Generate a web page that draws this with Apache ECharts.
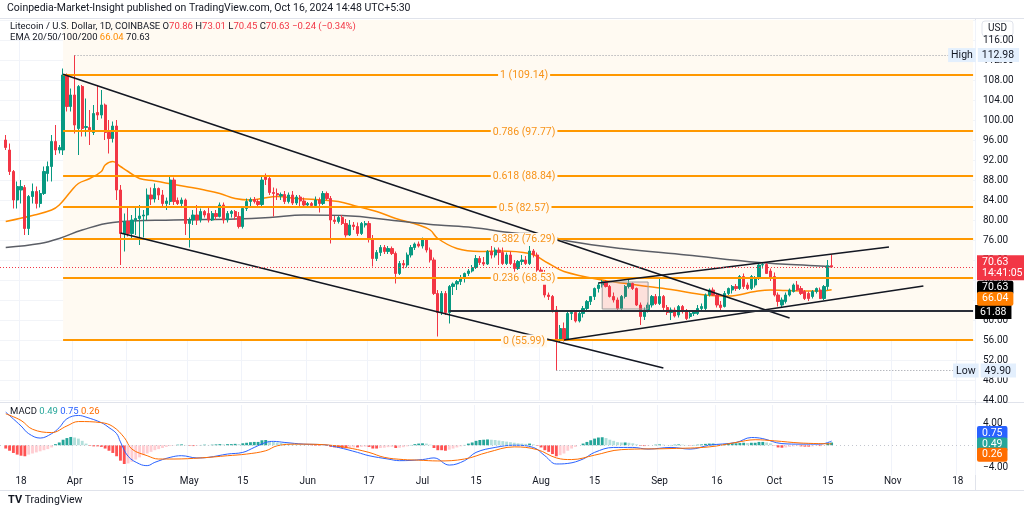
<!DOCTYPE html>
<html><head><meta charset="utf-8">
<script src="https://cdn.jsdelivr.net/npm/echarts@6/dist/echarts.min.js"></script>
<style>html,body{margin:0;padding:0;background:#fff}#c{width:1024px;height:511px}</style>
</head><body><div id="c"></div><script>
// ---------- data ----------
const axisStart = '2024-03-13', axisEnd = '2024-11-22';
const firstCandle = '2024-03-14';
// [open, high, low, close] daily from 2024-03-14 to 2024-10-16
const ohlc = [
[96,97,94,94.5],[94,95.3,89,89.7],[89.7,90,82.3,84],[84,87.7,82.3,86.7],[86,88,83.3,86.7],[86.5,87,77,78.3],[78.3,85,77,84.7],[84.7,87.3,83.3,85.7],[85.7,86.7,82.3,83.3],[83.3,86,82.5,85.3],[85.3,90.7,85,89.7],[89.3,91.7,87.7,90.7],[90.7,97,87.7,95.7],[95.7,99,93,94],[94,95,93.3,94.5],[94,110.3,93,109],[109,109.3,101.7,102.7],[102.7,106.3,101.7,105],
[105,112.98,97.3,99],[98.3,107,93,106.7],[106.7,107,96.7,98.3],[98.5,104.3,96.7,98.7],[98.5,102,95,97.8],[97.5,103,97,101.3],[101.5,107,100,101],[101,106,100.3,103],[103,103.3,96,97.5],[97.5,100,93.3,96.3],[96.3,99.7,95.5,98.8],[98.8,100,84,86],[86,87,71,77.3],[77.3,81.3,73.7,79.7],[79.7,82.7,76.7,77.3],[77.3,81,76,80],[80,82.7,77,80.3],[80.3,83,75,80.8],[80.8,82,76.5,81],[81,86.3,80,85],[85,86.5,83,84.2],[84.2,87.3,83.5,86.3],[86.3,86.5,84,85],[85,86,82.5,83.3],[83.3,84.5,82,83.8],[83.7,88.7,83,88],[88,88.5,83,83.7],[83.9,84.5,83,83.3],[83.3,84.5,82.5,84],[84,84.3,77,79.3],
[79.3,80.5,74.5,80],[80,82,79,81],[81,83,79,80],[80,82.3,79.5,81.7],[81.7,82,80.5,81],[81.3,82.5,79.5,80],[80,81.8,79.8,81.3],[81.3,82,80,80.7],[80.7,83.5,80.5,83],[83,83.5,79.3,80],[80,81.8,79.5,81.3],[81.3,82,80.5,81.7],[81.7,82,80,80.7],[80.7,81.6,78.3,78.7],[78.7,82.6,78.3,82.3],[82.3,84.3,81.8,83.7],[83.7,84.5,82.8,84.1],[84.1,84.6,83.3,83.7],[83.7,84.2,82.8,83.1],[83.1,89,82.5,88],[88.7,89.3,87,88.1],[88.3,88.6,85,85.5],[85.5,86.5,80.7,85.3],[85.3,86.3,84,85],[84.8,85.5,84,85.1],[85.1,85.8,83.2,83.7],[83.7,85.5,83.3,85],[85,85.8,83,83.4],[83.4,85,83,84.6],[84.6,85,82.8,83.8],[83.8,84.5,82.5,83],
[83,83.6,82.6,83.3],[83.3,83.6,82.5,82.9],[82.9,84.7,82.6,84],[84,84.5,81.5,83.3],[83.3,85.8,83,85.3],[85.3,85.7,84,84.3],[84.3,84.8,75.3,80],[80,80.8,79.2,79.7],[79.7,80.8,79.3,80.5],[80.5,81,79,79.3],[79.3,80.2,76.5,77],[77,80,76.8,79],[79,79.6,78,78.7],[78.7,79.5,76.8,77.3],[77.3,79.6,77,79.3],[79,79.8,78.5,79.3],[79.3,79.8,75.5,76.3],[76.3,77,70.7,72.3],[72.3,74,71.8,73.5],[73.5,75,72.8,74.5],[74.5,75,73.2,73.7],[73.7,74.8,73.2,74.3],[74.3,74.7,73,73.3],[73.3,73.7,67.3,69.3],[69.3,71.8,69,71.3],[71.3,72,70.3,71],[71,73.5,70.5,73],[73,75,72.5,74.5],[74.5,75.5,74,75.2],[75.2,75.7,74.5,74.8],
[74.8,76.5,74.3,76],[76,76.3,73.5,74],[74,74.5,71.5,72],[72,72.5,65,65.3],[65.3,66,56.7,61.5],[61.5,65.8,61,65.3],[65.3,65.8,61,61.5],[61.5,67,59.3,66.7],[66.7,67.5,65,67.2],[67.2,68,66,67.7],[67.7,69,67,68.5],[68.5,69.5,67.5,69.3],[69.3,70.2,68.8,69.8],[69.8,71,69.5,70.5],[70.5,73,70.2,72.3],[72.3,72.8,71,71.5],[71.5,72.6,70.8,71.2],[71.2,74,71,73.7],[73.7,74.8,72.3,73],[73,74.5,72.5,74],[74,74.5,71,73.5],[73.5,74.5,71,71.3],[71.3,73.5,71,73],[73,73.7,71,71.3],[71.3,72,69.5,70.3],[70.3,72,70,71.7],[71.7,73,71,72],[72,72.8,71,71.3],[71.3,76.7,71,73.8],[73.8,74.2,72.5,73],[73,73.5,69.5,70],
[70,70.5,69,69.5],[69.5,70,64.5,65],[65,65.5,64,64.7],[64.7,65,61.5,62],[62,62.8,49.9,56],[56,59,55.5,58.3],[58.3,59.5,55.7,56],[56,61.8,55.8,61.3],[61.3,62,60,61.5],[61.5,61.8,59.5,59.8],[59.8,61.8,59.5,61.3],[61.3,62.8,60.5,62.3],[62.3,64,62,63.7],[63.7,64.8,63,64.7],[64.7,66.5,64,66.3],[66.3,67.5,65.5,67],[67,68,66.5,67.7],[67.7,68,66.5,66.7],[66.7,67,64.5,64.7],[64.7,65.5,63.5,64],[64,64.5,62,62.3],[62.3,65,62,64.7],[64.7,67,64.3,66.7],[66.7,68.3,66.3,67.3],[67.3,67.5,66,66.3],[66.3,66.5,62.8,63],[63,63.5,59,60.7],[60.7,62.5,60,62],[62,63.5,61.5,63],[63,65,62.5,64.7],[64.7,65.2,63,63.3],
[63.3,68.3,63,64.7],[64.7,65,62,62.5],[62.5,63,61,61.5],[61.5,62.5,60,62],[62,62.5,60.5,60.8],[61,63,60.5,62.7],[62.7,63,61.3,61.7],[61.7,62.2,60,60.3],[60.7,61.8,60.3,61.3],[61.3,62,60.8,61.7],[61.3,63,61,62.3],[62.3,63.3,62,62.7],[62.3,65.3,62,65],[65,66.3,64.7,66],[66,66.5,64.8,65],[65,65.3,62.5,63],[63,63.8,62,62.5],[62.7,65.8,62.5,65.3],[65.3,66.5,65,66.3],[66,67,65.3,66.7],[66.7,67.2,65.8,66.3],[66.3,69,66,68.7],[68.7,69.3,66.2,66.7],[67,67.5,66,66.3],[66.3,69,66,68.7],[67,68.8,66.5,68.3],[68.3,71.5,68,71],[71,71.6,70.3,71.1],[71.1,71.5,69.3,69.3],[69.8,70.3,67.8,68.3],
[68.7,69.5,64.7,65],[65,65.5,62.7,63.7],[63,64.5,62.5,64],[63.7,65.5,63.3,65],[65,66.3,64.7,66],[65.7,67.3,65.5,67],[67,67.8,65.8,66],[66.3,66.8,65,65.3],[65.7,66,64,64.3],[65.3,65.7,63.8,64.3],[64.7,66,64.3,65.7],[65.7,66.5,65.3,66.3],[66,66.5,64.2,64.3],[64.3,67,64,66.7],[66.7,72,66,70.86],[70.86,73.01,70.45,70.63]
];
// EMA lines [date, value]
const emaFast = [['2024-03-14',79.7],['2024-03-21',80.9],['2024-03-26',82],['2024-03-28',83],['2024-03-31',85.7],['2024-04-02',87.3],['2024-04-05',88.3],['2024-04-08',89.7],['2024-04-09',91],['2024-04-11',91.7],['2024-04-13',90.7],['2024-04-15',89.7],['2024-04-18',88.3],['2024-04-22',87.8],['2024-04-27',87.1],['2024-04-30',86.7],['2024-05-05',86],['2024-05-09',85.3],['2024-05-13',84.3],['2024-05-17',84],['2024-05-20',84.3],['2024-05-24',84.7],['2024-05-29',84.3],['2024-06-03',84.1],['2024-06-09',83.7],['2024-06-14',82.7],['2024-06-19',81.7],['2024-06-24',80.3],['2024-06-30',79],['2024-07-03',78],['2024-07-05',76.3],['2024-07-10',74.3],['2024-07-16',73.7],['2024-07-21',73.8],['2024-07-29',73.3],['2024-08-03',71.3],['2024-08-07',69.7],['2024-08-17',68],['2024-08-26',67],['2024-09-04',66.1],['2024-09-13',65],['2024-09-19',64.8],['2024-09-26',65.7],['2024-09-30',66],['2024-10-04',65.9],['2024-10-13',65.8],['2024-10-16',66.04]];
const emaSlow = [['2024-03-14',74.5],['2024-03-23',75.3],['2024-03-28',76.3],['2024-04-03',78],['2024-04-11',79.5],['2024-04-27',80],['2024-05-13',80.2],['2024-05-22',80.5],['2024-05-31',81],['2024-06-10',80.9],['2024-06-26',79.7],['2024-07-05',79],['2024-07-14',78.5],['2024-07-25',77.4],['2024-08-01',77.1],['2024-08-08',75.8],['2024-08-22',74.3],['2024-09-08',73],['2024-09-27',71.5],['2024-10-13',70.8],['2024-10-16',70.63]];
// MACD
const macdLine = [['2024-03-14',6.0],['2024-03-18',3.5],['2024-03-20',2.1],['2024-03-23',1.3],['2024-03-26',2.1],['2024-03-28',3.2],['2024-03-30',4.8],['2024-04-02',5.4],['2024-04-04',5.1],['2024-04-08',4.1],['2024-04-10',3.2],['2024-04-12',2.1],['2024-04-13',0.6],['2024-04-15',-2.0],['2024-04-18',-3.4],['2024-04-20',-3.7],['2024-04-22',-3.1],['2024-04-26',-2.2],['2024-04-29',-1.9],['2024-05-03',-2.3],['2024-05-06',-2.2],['2024-05-11',-1.6],['2024-05-15',-1.3],['2024-05-18',-0.4],['2024-05-21',0.5],['2024-05-23',0.7],['2024-05-26',0.5],['2024-05-31',0.2],['2024-06-05',0.1],['2024-06-09',-0.4],['2024-06-14',-1.3],['2024-06-17',-1.9],['2024-06-22',-2.5],['2024-06-25',-2.8],['2024-07-01',-2.6],['2024-07-04',-2.3],['2024-07-08',-3.6],['2024-07-12',-2.8],['2024-07-15',-1.3],['2024-07-20',-0.4],['2024-07-25',0.0],['2024-07-30',-0.4],['2024-08-02',-1.9],['2024-08-05',-3.4],['2024-08-08',-3.3],['2024-08-12',-2.5],['2024-08-15',-1.3],['2024-08-20',-0.4],['2024-08-25',-0.4],['2024-08-29',-0.7],['2024-09-04',-0.4],['2024-09-09',-0.7],['2024-09-14',0.0],['2024-09-21',0.5],['2024-09-25',1.4],['2024-09-28',1.2],['2024-10-03',0.3],['2024-10-08',0.2],['2024-10-13',0.2],['2024-10-16',0.75]];
const signalLine = [['2024-03-14',5.7],['2024-03-18',4.5],['2024-03-21',2.9],['2024-03-26',2.3],['2024-03-30',3.5],['2024-04-02',4.3],['2024-04-08',4.1],['2024-04-11',3.4],['2024-04-14',1.4],['2024-04-16',-0.7],['2024-04-20',-1.9],['2024-04-23',-2.5],['2024-04-27',-2.5],['2024-05-04',-2.3],['2024-05-11',-1.9],['2024-05-16',-1.6],['2024-05-21',-1.0],['2024-05-24',-0.1],['2024-05-29',0.2],['2024-06-05',0.1],['2024-06-11',-0.4],['2024-06-17',-1.3],['2024-06-21',-2.2],['2024-06-26',-2.6],['2024-06-30',-2.7],['2024-07-05',-2.85],['2024-07-12',-2.5],['2024-07-18',-1.3],['2024-07-25',-0.3],['2024-07-31',-0.8],['2024-08-05',-2.3],['2024-08-09',-2.6],['2024-08-15',-1.8],['2024-08-22',-0.8],['2024-09-04',-0.6],['2024-09-14',-0.3],['2024-09-21',0.5],['2024-09-26',1.0],['2024-10-01',0.8],['2024-10-08',0.4],['2024-10-16',0.26]];
const macdHist = [
-0.6,-1.0,-1.4,-1.7,-1.9,-2.0,-1.7,-1.5,-1.3,-1.1,-0.9,-0.7,-0.4,0.2,0.5,1.0,1.3,1.5,
1.4,1.2,0.8,0.3,-0.1,-0.2,-0.2,-0.3,-0.6,-1.0,-1.4,-2.0,-2.8,-3.4,-3.3,-3.0,-2.6,-2.2,-1.8,-1.5,-1.2,-0.9,-0.7,-0.5,-0.3,-0.15,-0.05,0.1,0.15,0.05,
-0.1,-0.15,-0.1,0.05,0.1,0.05,0.1,0.15,0.2,0.15,0.2,0.2,0.25,0.2,0.35,0.45,0.55,0.6,0.6,0.9,0.95,0.8,0.6,0.5,0.4,0.3,0.25,0.2,0.15,0.1,0.05,
0,-0.05,-0.1,-0.1,0,-0.05,-0.3,-0.4,-0.45,-0.5,-0.55,-0.45,-0.4,-0.4,-0.3,-0.25,-0.3,-0.6,-0.6,-0.5,-0.45,-0.35,-0.3,-0.5,-0.45,-0.35,-0.2,0.05,0.2,0.3,
0.35,0.3,0.1,-0.5,-0.9,-0.9,-1.0,-0.8,-0.6,-0.4,-0.2,0.05,0.3,0.5,0.8,0.95,1.0,1.05,1.0,0.95,0.85,0.75,0.65,0.55,0.45,0.35,0.3,0.25,0.3,0.15,-0.1,
-0.4,-0.9,-1.2,-1.6,-2.0,-1.8,-1.5,-1.0,-0.6,-0.3,0,0.3,0.6,0.9,1.2,1.4,1.45,1.3,1.0,0.8,0.55,0.5,0.5,0.45,0.35,0.15,-0.1,-0.15,-0.1,0,0.1,
0.15,0.1,0.05,0.05,0.1,0.15,0.1,0.05,-0.05,0.05,0.1,0.15,0.25,0.3,0.3,0.2,0.15,0.2,0.3,0.35,0.35,0.4,0.45,0.4,0.45,0.45,0.6,0.6,0.5,0.35,
-0.05,-0.4,-0.45,-0.4,-0.3,-0.2,-0.15,-0.2,-0.25,-0.25,-0.2,-0.1,-0.15,-0.05,0.35,0.49
];
// Fibonacci retracement
const fibLevels = ['1','0.786','0.618','0.5','0.382','0.236','0'];
const fibPrices = [109.14,97.77,88.84,82.57,76.29,68.53,55.99];
const fibStart = '2024-03-29';
// trend lines [[date, price],[date, price]]
const trendLines = [
  [['2024-03-29',109.14],['2024-10-05',60.4]],
  [['2024-04-13',77.4],['2024-09-02',50.4]],
  [['2024-08-16',67.4],['2024-10-31',74.6]],
  [['2024-08-07',56.0],['2024-11-09',66.8]]
];
const supportLevel = {start:'2024-07-08', price:61.88};
const boxZone = [['2024-08-17',67.6],['2024-08-29',62.2]];
const highPoint = {date:'2024-04-01', price:112.98};
const lowPoint = {date:'2024-08-05', price:49.90};
const lastPrice = 70.63, emaFastLast = 66.04, emaSlowLast = 70.63;
const macdLast = {hist:0.49, macd:0.75, signal:0.26};
const tickDates = ['2024-03-18','2024-04-01','2024-04-15','2024-05-01','2024-05-15','2024-06-01','2024-06-17','2024-07-01','2024-07-15','2024-08-01','2024-08-15','2024-09-01','2024-09-16','2024-10-01','2024-10-15','2024-11-01','2024-11-18'];
const monthNames = ['Jan','Feb','Mar','Apr','May','Jun','Jul','Aug','Sep','Oct','Nov','Dec'];

// ---------- build ----------
const categories = [];
for (let t = Date.parse(axisStart + 'T00:00:00Z'); t <= Date.parse(axisEnd + 'T00:00:00Z'); t += 86400000) {
  categories.push(new Date(t).toISOString().slice(0, 10));
}
const lastCat = categories[categories.length - 1];
const off = categories.indexOf(firstCandle);
const candleData = categories.map((d, i) => {
  const r = ohlc[i - off];
  return r ? [r[0], r[3], r[2], r[1]] : '-';
});
const histData = categories.map((d, i) => {
  const v = macdHist[i - off];
  return v === undefined ? '-' : v;
});
const tickSet = new Set(tickDates);
const tickFn = (idx, val) => tickSet.has(val);

const UP = '#089981', DOWN = '#F23645', ORANGE = '#FF9800', INK = '#131722';
const FONT = 'Roboto, "Noto Sans", sans-serif';
const HIDDEN = {color: 'rgba(0,0,0,0)', width: 0, type: 'solid'};

function tag(value, text, bg, color, dy) {
  return {
    yAxis: value,
    lineStyle: HIDDEN,
    label: {show: true, position: 'end', distance: 2, offset: [0, dy || 0],
      formatter: text, backgroundColor: bg, color: color || '#fff',
      padding: [2, 5, 1, 5], fontSize: 10.5, fontFamily: FONT, borderRadius: 2}
  };
}

const chart = echarts.init(document.getElementById('c'), null, {renderer: 'canvas'});
const option = {
  animation: false,
  backgroundColor: '#ffffff',
  textStyle: {fontFamily: FONT},
  grid: [
    {left: 0, right: 49, top: 20, height: 380},
    {left: 0, right: 49, top: 405, height: 70}
  ],
  xAxis: [
    {type: 'category', gridIndex: 0, data: categories, boundaryGap: true,
     axisLine: {show: false}, axisTick: {show: false}, axisLabel: {show: false},
     splitLine: {show: true, interval: tickFn, lineStyle: {color: '#f0f3fa'}}},
    {type: 'category', gridIndex: 1, data: categories, boundaryGap: true,
     axisLine: {show: false}, axisTick: {show: false},
     axisLabel: {show: true, interval: tickFn, margin: 1, fontSize: 10, color: INK, fontFamily: FONT,
       formatter: v => v.slice(8) === '01' ? monthNames[+v.slice(5, 7) - 1] : String(+v.slice(8))},
     splitLine: {show: true, interval: tickFn, lineStyle: {color: '#f0f3fa'}}}
  ],
  yAxis: [
    {type: 'value', gridIndex: 0, position: 'right', min: 44, max: 120, interval: 4, scale: true,
     axisLine: {show: false}, axisTick: {show: false},
     axisLabel: {margin: 8, fontSize: 10, color: INK, fontFamily: FONT, formatter: v => v >= 120 ? '' : v.toFixed(2)},
     splitLine: {show: true, lineStyle: {color: '#f2f4f8'}}},
    {type: 'value', gridIndex: 1, position: 'right', min: -5.4, max: 7.3,
     axisLine: {show: false}, axisTick: {show: false}, splitLine: {show: false},
     axisLabel: {margin: 8, fontSize: 10, color: INK, fontFamily: FONT, customValues: [-4, 4],
       formatter: v => (v < 0 ? '\u2212' : '') + Math.abs(v).toFixed(2)}}
  ],
  series: [
    { // fib retracement
      name: 'fib', type: 'line', xAxisIndex: 0, yAxisIndex: 0, data: [], z: 1, silent: true,
      markArea: {silent: true, itemStyle: {color: '#fffaf2'},
        data: [[{coord: [fibStart, 120]}, {coord: [lastCat, fibPrices[fibPrices.length - 1]]}]]},
      markLine: {silent: true, symbol: 'none', animation: false,
        data: fibPrices.map((p, i) => [
          {coord: [fibStart, p], lineStyle: {color: ORANGE, width: 2, type: 'solid'},
           label: {show: true, position: 'middle', distance: 0, verticalAlign: 'middle', offset: [6, 1],
             formatter: fibLevels[i] + ' (' + p.toFixed(2) + ')', color: '#F7931A', fontSize: 10.5, fontFamily: FONT,
             backgroundColor: '#fffaf2', padding: [1, 2]}},
          {coord: [lastCat, p]}
        ])}
    },
    {
      name: 'LTC', type: 'candlestick', xAxisIndex: 0, yAxisIndex: 0, data: candleData, z: 3,
      barWidth: '72%',
      itemStyle: {color: UP, color0: DOWN, borderColor: UP, borderColor0: DOWN, borderWidth: 1},
      markArea: {silent: true, z: 4,
        itemStyle: {color: 'rgba(242,54,69,0.13)', borderColor: '#9e9e9e', borderWidth: 1},
        data: [[{coord: boxZone[0]}, {coord: boxZone[1]}]]},
      markLine: {silent: true, symbol: 'none', animation: false, z: 5,
        data: [
          ...trendLines.map(l => [{coord: l[0], lineStyle: {color: INK, width: 1.6, type: 'solid'}, label: {show: false}}, {coord: l[1]}]),
          [{coord: [supportLevel.start, supportLevel.price], lineStyle: {color: '#2a2e39', width: 2, type: 'solid'},
            label: {show: true, position: 'end', distance: 2, offset: [0, 1.5], formatter: supportLevel.price.toFixed(2),
              backgroundColor: '#000', color: '#fff', padding: [2, 5, 1, 5], fontSize: 10.5, fontFamily: FONT}},
           {coord: [lastCat, supportLevel.price]}],
          [{coord: [highPoint.date, highPoint.price], lineStyle: {color: '#9598a1', width: 1, type: [1, 2]},
            label: {show: true, position: 'end', distance: 2, offset: [-27, 0],
              formatter: '{a|High}{s| }{b|' + highPoint.price.toFixed(2) + '}',
              rich: {a: {backgroundColor: '#e3effd', color: INK, padding: [2, 3, 1, 3], fontSize: 10.5, fontFamily: FONT},
                     s: {width: 2}, b: {backgroundColor: '#e3effd', color: INK, padding: [2, 5, 1, 4], fontSize: 10.5, fontFamily: FONT}}}},
           {coord: [lastCat, highPoint.price]}],
          [{coord: [lowPoint.date, lowPoint.price], lineStyle: {color: '#9598a1', width: 1, type: [1, 2]},
            label: {show: true, position: 'end', distance: 2, offset: [-22, 0],
              formatter: '{a|Low}{s| }{b|' + lowPoint.price.toFixed(2) + '}',
              rich: {a: {backgroundColor: '#e3effd', color: INK, padding: [2, 3, 1, 3], fontSize: 10.5, fontFamily: FONT},
                     s: {width: 2}, b: {backgroundColor: '#e3effd', color: INK, padding: [2, 5, 1, 4], fontSize: 10.5, fontFamily: FONT}}}},
           {coord: [lastCat, lowPoint.price]}],
          {yAxis: lastPrice, lineStyle: {color: DOWN, width: 1, type: [1, 2]},
           label: {show: true, position: 'end', distance: 2, offset: [0, 1],
             formatter: lastPrice.toFixed(2) + '\n14:41:05', backgroundColor: DOWN, color: '#fff',
             padding: [2, 5, 1, 5], fontSize: 10.5, lineHeight: 11, fontFamily: FONT}},
          tag(emaSlowLast, emaSlowLast.toFixed(2), '#000', '#fff', 21),
          tag(emaFastLast, emaFastLast.toFixed(2), '#FF7F00', '#fff', 9)
        ]}
    },
    {name: 'EMA fast', type: 'line', xAxisIndex: 0, yAxisIndex: 0, data: emaFast, smooth: 0.4, showSymbol: false,
     lineStyle: {color: '#FF8C00', width: 1.5}, z: 2, silent: true},
    {name: 'EMA slow', type: 'line', xAxisIndex: 0, yAxisIndex: 0, data: emaSlow, smooth: 0.4, showSymbol: false,
     lineStyle: {color: '#5b5e66', width: 1.5}, z: 2, silent: true},
    {name: 'Histogram', type: 'bar', xAxisIndex: 1, yAxisIndex: 1, data: histData, barWidth: '75%', silent: true,
     itemStyle: {color: p => {
       const v = p.value, prev = histData[p.dataIndex - 1];
       const pv = (prev === '-' || prev === undefined) ? v : prev;
       if (v >= 0) return v >= pv ? '#26A69A' : '#B2DFDB';
       return v <= pv ? '#FF5252' : '#FFCDD2';
     }},
     markLine: {silent: true, symbol: 'none', animation: false,
       data: [
         {yAxis: 0, lineStyle: {color: '#c3c6ce', width: 1, type: [1, 3]}, label: {show: false}},
         tag(macdLast.macd, macdLast.macd.toFixed(2), '#2962FF', '#fff', -8),
         tag(macdLast.hist, macdLast.hist.toFixed(2), '#26A69A', '#fff', 2),
         tag(macdLast.signal, macdLast.signal.toFixed(2), '#FF6D00', '#fff', 11)
       ]}},
    {name: 'MACD', type: 'line', xAxisIndex: 1, yAxisIndex: 1, data: macdLine, smooth: 0.4, showSymbol: false,
     lineStyle: {color: '#2962FF', width: 1}, z: 3, silent: true},
    {name: 'Signal', type: 'line', xAxisIndex: 1, yAxisIndex: 1, data: signalLine, smooth: 0.4, showSymbol: false,
     lineStyle: {color: '#FF6D00', width: 1}, z: 3, silent: true}
  ],
  graphic: [
    {type: 'text', left: 7, top: 3, style: {text: 'Coinpedia-Market-Insight published on TradingView.com, Oct 16, 2024 14:48 UTC+5:30', fill: INK, font: '10.5px ' + FONT}},
    {type: 'line', shape: {x1: 0, y1: 18.5, x2: 1024, y2: 18.5}, style: {stroke: '#e0e3eb', lineWidth: 1}},
    {type: 'line', shape: {x1: 975.5, y1: 18, x2: 975.5, y2: 490}, style: {stroke: '#e0e3eb', lineWidth: 1}},
    {type: 'line', shape: {x1: 0, y1: 402.5, x2: 1024, y2: 402.5}, style: {stroke: '#e0e3eb', lineWidth: 1}},
    {type: 'line', shape: {x1: 0, y1: 490.5, x2: 1024, y2: 490.5}, style: {stroke: '#e0e3eb', lineWidth: 1}},
    {type: 'rect', shape: {x: 982, y: 21, width: 31, height: 15, r: 3}, style: {fill: '#fff', stroke: '#e0e3eb'}},
    {type: 'text', x: 997.5, y: 28.5, style: {text: 'USD', fill: INK, font: '10px ' + FONT, align: 'center', verticalAlign: 'middle'}},
    {type: 'text', left: 10, top: 22, z: 10, style: {
      rich: {a: {fill: INK, font: '9.5px ' + FONT}, r: {fill: DOWN, font: '9.5px ' + FONT}},
      text: '{a|Litecoin / U.S. Dollar, 1D, COINBASE O}{r|70.86}{a| H}{r|73.01}{a| L}{r|70.45}{a| C}{r|70.63}{r| \u22120.24 (\u22120.34%)}'}},
    {type: 'text', left: 10, top: 33, z: 10, style: {
      rich: {a: {fill: INK, font: '9.5px ' + FONT}, o: {fill: '#FF8C00', font: '9.5px ' + FONT}},
      text: '{a|EMA 20/50/100/200 }{o|66.04}{a| 70.63}'}},
    {type: 'text', left: 10, top: 407, z: 10, style: {
      rich: {a: {fill: INK, font: '9.5px ' + FONT}, g: {fill: '#26A69A', font: '9.5px ' + FONT}, b: {fill: '#2962FF', font: '9.5px ' + FONT}, o: {fill: '#FF6D00', font: '9.5px ' + FONT}},
      text: '{a|MACD }{g|0.49}{a| }{b|0.75}{a| }{o|0.26}'}},
    {type: 'text', left: 8, top: 495, style: {
      rich: {l: {fill: INK, font: 'bold 11px ' + FONT}, t: {fill: INK, font: '10.5px ' + FONT}},
      text: '{l|TV}{t| TradingView}'}}
  ]
};
chart.setOption(option);
</script></body></html>
